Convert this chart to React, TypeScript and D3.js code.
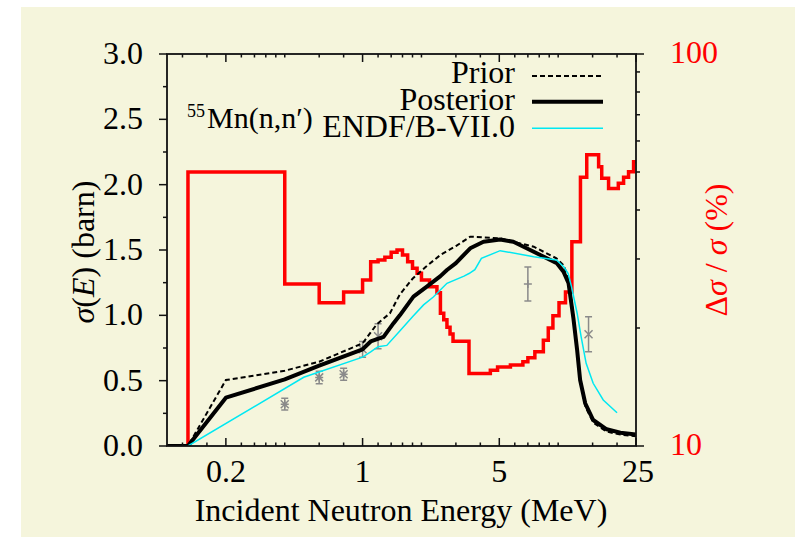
import React from 'react';
import * as d3 from 'd3';

const W = 799;
const H = 537;
const PL = 167, PR = 636, PT = 54, PB = 446;

// Relative uncertainty histogram (right axis, %), bin edges in MeV
const redEdges = [0.128, 0.4, 0.6, 0.8, 1.0, 1.1, 1.2, 1.3, 1.4, 1.5, 1.6, 1.7, 1.8, 1.9, 2.0, 2.2, 2.4, 2.5, 2.6, 2.7, 2.8, 2.9, 3.5, 4.5, 4.9, 5.7, 6.6, 7.0, 7.6, 8.4, 8.9, 9.4, 10.1, 10.9, 11.75, 13.0, 14.0, 16.1, 16.7, 18.1, 20.3, 21.6, 22.9, 24.3, 25];
const redValues = [50, 25.9, 23.2, 24.7, 26.5, 29.5, 29.8, 30.3, 31.2, 31.6, 30.7, 29.5, 28.4, 27.6, 26.5, 25.5, 24.6, 21.8, 21.0, 20.1, 19.3, 18.5, 15.3, 15.6, 15.9, 16.1, 16.4, 16.8, 17.4, 18.6, 20.0, 21.5, 23.2, 24.7, 33.2, 48.5, 55.3, 51.6, 48.2, 45.4, 46.8, 48.5, 50.1, 53.1];

// Posterior cross section (barn)
const postE = [0.1, 0.128, 0.2, 0.4, 0.6, 1.0, 1.1, 1.28, 1.44, 1.55, 1.82, 2.13, 2.5, 2.7, 3.0, 3.55, 4.15, 5.05, 5.9, 7.5, 9.85, 10.65, 11.3, 11.96, 12.5, 12.95, 13.75, 15.1, 17.7, 20.8, 25];
const postS = [0, 0, 0.37, 0.51, 0.615, 0.74, 0.80, 0.835, 0.94, 1.0, 1.143, 1.22, 1.30, 1.347, 1.40, 1.513, 1.563, 1.58, 1.563, 1.487, 1.398, 1.334, 1.245, 0.98, 0.735, 0.505, 0.327, 0.199, 0.128, 0.102, 0.088];

// Prior cross section (barn)
const priorE = [0.1, 0.128, 0.2, 0.4, 0.6, 1.0, 1.18, 1.38, 1.55, 1.8, 2.1, 2.5, 3.0, 3.55, 5.0, 7.5, 9.8, 10.7, 11.3, 12.0, 12.5, 13.0, 13.8, 15.1, 17.7, 20.8, 25];
const priorS = [0, 0, 0.505, 0.576, 0.645, 0.786, 0.93, 1.016, 1.16, 1.28, 1.37, 1.462, 1.53, 1.602, 1.59, 1.525, 1.436, 1.38, 1.27, 1.0, 0.74, 0.49, 0.30, 0.18, 0.11, 0.087, 0.075];

// ENDF/B-VII.0 (barn)
const endfE = [0.128, 0.5, 1.0, 1.1, 1.2, 1.33, 1.55, 1.8, 2.05, 2.3, 2.7, 3.3, 3.5, 3.75, 4.05, 5.05, 7.5, 9.8, 10.7, 11.25, 11.7, 12.5, 13.1, 13.9, 15.1, 17.0, 20.0];
const endfS = [0, 0.526, 0.68, 0.72, 0.76, 0.77, 0.88, 0.99, 1.08, 1.14, 1.245, 1.30, 1.32, 1.35, 1.436, 1.495, 1.449, 1.423, 1.37, 1.32, 1.22, 1.016, 0.837, 0.633, 0.48, 0.352, 0.255];

// Experimental points
const expE = [0.4, 0.6, 0.8, 1.0, 1.2, 7.0, 14.3];
const expS = [0.32, 0.525, 0.549, 0.74, 0.84, 1.24, 0.855];
const expErr = [0.045, 0.048, 0.046, 0.06, 0.095, 0.13, 0.134];
const expMarker = ['ast', 'ast', 'ast', 'x', 'x', 'plus', 'x'];

// Ticks
const xMajor = [0.2, 1, 5, 25];
const xMajorLabels = ['0.2', '1', '5', '25'];
const xMinor = [0.12, 0.16, 0.24, 0.28, 0.32, 0.36, 0.4, 0.6, 0.8, 1.2, 1.4, 1.6, 1.8, 2, 3, 4, 6, 7, 8, 9, 10, 15, 20];
const yMajor = [0, 0.5, 1.0, 1.5, 2.0, 2.5, 3.0];
const yMinor = [0.25, 0.75, 1.25, 1.75, 2.25, 2.75];
const y2Major = [10, 100];
const y2Minor = [20, 30, 40, 50, 60, 70, 80, 90];

const FONT = '"Liberation Serif", "Times New Roman", serif';
const FS = 32;

export default function App() {
  const x = d3.scaleLog().domain([0.1, 25]).range([PL, PR]);
  const y = d3.scaleLinear().domain([0, 3]).range([PB, PT]);
  const y2 = d3.scaleLog().domain([10, 100]).range([PB, PT]);

  const redPts: [number, number][] = [[redEdges[0], 10]];
  redValues.forEach((v, i) => redPts.push([redEdges[i], v]));
  redPts.push([redEdges[redEdges.length - 1], redValues[redValues.length - 1]]);
  const redPath = d3.line<[number, number]>().x(d => x(d[0])).y(d => y2(d[1])).curve(d3.curveStepAfter)(redPts) || '';

  const line = d3.line<[number, number]>().x(d => x(d[0])).y(d => y(d[1]));
  const postPath = line(postE.map((e, i) => [e, postS[i]] as [number, number])) || '';
  const priorPath = line(priorE.map((e, i) => [e, priorS[i]] as [number, number])) || '';
  const endfPath = line(endfE.map((e, i) => [e, endfS[i]] as [number, number])) || '';

  const gray = '#8a8a8a';
  const marker = (type: string, cx: number, cy: number) => {
    const s = 4;
    const plus = `M${cx - s},${cy}L${cx + s},${cy}M${cx},${cy - s}L${cx},${cy + s}`;
    const cross = `M${cx - s},${cy - s}L${cx + s},${cy + s}M${cx - s},${cy + s}L${cx + s},${cy - s}`;
    if (type === 'plus') return plus;
    if (type === 'x') return cross;
    return plus + cross;
  };

  return (
    <svg width={W} height={H} style={{ position: 'absolute', left: 0, top: 0 }} fontFamily={FONT}>
      <rect x={0} y={0} width={W} height={H} fill="#ffffff" />
      <rect x={21} y={7} width={774} height={530} fill="#f5f5dc" />
      <defs>
        <clipPath id="plotclip">
          <rect x={PL} y={PT} width={PR - PL} height={PB - PT} />
        </clipPath>
      </defs>

      <g clipPath="url(#plotclip)">
        <path d={redPath} fill="none" stroke="#ff0000" strokeWidth={3.5} strokeLinejoin="miter" />
        {expE.map((e, i) => {
          const cx = x(e);
          const cy = y(expS[i]);
          const y0 = y(expS[i] - expErr[i]);
          const y1 = y(expS[i] + expErr[i]);
          return (
            <g key={i} stroke={gray} strokeWidth={1.5} fill="none">
              <path d={`M${cx},${y0}L${cx},${y1}M${cx - 3.5},${y0}L${cx + 3.5},${y0}M${cx - 3.5},${y1}L${cx + 3.5},${y1}`} />
              <path d={marker(expMarker[i], cx, cy)} />
            </g>
          );
        })}
        <path d={priorPath} fill="none" stroke="#000" strokeWidth={2} strokeDasharray="5,3" />
        <path d={postPath} fill="none" stroke="#000" strokeWidth={4} strokeLinejoin="round" />
        <path d={endfPath} fill="none" stroke="#00e8f2" strokeWidth={1.5} />
      </g>

      {/* frame */}
      <rect x={PL} y={PT} width={PR - PL} height={PB - PT} fill="none" stroke="#111" strokeWidth={1.8} />

      {/* ticks */}
      <g stroke="#111" strokeWidth={1.5}>
        {xMajor.map(v => (
          <g key={'xm' + v}>
            <line x1={x(v)} x2={x(v)} y1={PB} y2={PB - 8} />
            <line x1={x(v)} x2={x(v)} y1={PT} y2={PT + 8} />
          </g>
        ))}
        {xMinor.map(v => (
          <g key={'xn' + v}>
            <line x1={x(v)} x2={x(v)} y1={PB} y2={PB - 3.5} />
            <line x1={x(v)} x2={x(v)} y1={PT} y2={PT + 3.5} />
          </g>
        ))}
        {yMajor.map(v => (
          <line key={'ym' + v} x1={PL} x2={PL - 8} y1={y(v)} y2={y(v)} />
        ))}
        {yMinor.map(v => (
          <line key={'yn' + v} x1={PL} x2={PL - 4} y1={y(v)} y2={y(v)} />
        ))}
        {y2Major.map(v => (
          <line key={'y2m' + v} x1={PR} x2={PR + 8} y1={y2(v)} y2={y2(v)} />
        ))}
        {y2Minor.map(v => (
          <line key={'y2n' + v} x1={PR} x2={PR + 4} y1={y2(v)} y2={y2(v)} />
        ))}
      </g>

      {/* tick labels */}
      <g fontSize={FS} fill="#000">
        {xMajor.map((v, i) => (
          <text key={'xl' + v} x={x(v) + (v === 25 ? 2 : 0)} y={482} textAnchor="middle">{xMajorLabels[i]}</text>
        ))}
        {yMajor.map(v => (
          <text key={'yl' + v} x={143} y={y(v) + 10} textAnchor="end">{v.toFixed(1)}</text>
        ))}
      </g>
      <g fontSize={FS} fill="#ff0000">
        {y2Major.map(v => (
          <text key={'y2l' + v} x={670} y={y2(v) + 9} textAnchor="start">{String(v)}</text>
        ))}
      </g>

      {/* axis labels */}
      <text x={401} y={521} textAnchor="middle" fontSize={FS}>Incident Neutron Energy (MeV)</text>
      <text transform="translate(94,252) rotate(-90)" textAnchor="middle" fontSize={FS}>
        <tspan fontStyle="italic">σ</tspan>(<tspan fontStyle="italic">E</tspan>) (barn)
      </text>
      <text transform="translate(727,250) rotate(-90)" textAnchor="middle" fontSize={FS} fill="#ff0000">
        Δ<tspan fontStyle="italic">σ</tspan> / <tspan fontStyle="italic">σ</tspan> (%)
      </text>

      {/* reaction label */}
      <text x={187} y={116.7} fontSize={18}>55</text>
      <text x={207} y={128.3} fontSize={30}>Mn(n,n′)</text>

      {/* legend */}
      <g fontSize={FS}>
        <text x={515} y={83.3} textAnchor="end">Prior</text>
        <text x={515} y={110} textAnchor="end">Posterior</text>
        <text x={515} y={136.7} textAnchor="end">ENDF/B-VII.0</text>
      </g>
      <line x1={532} x2={603} y1={76} y2={76} stroke="#000" strokeWidth={2} strokeDasharray="5,3" />
      <line x1={532} x2={603} y1={101.7} y2={101.7} stroke="#000" strokeWidth={4} />
      <line x1={532} x2={603} y1={128.3} y2={128.3} stroke="#00e8f2" strokeWidth={1.5} />
    </svg>
  );
}
